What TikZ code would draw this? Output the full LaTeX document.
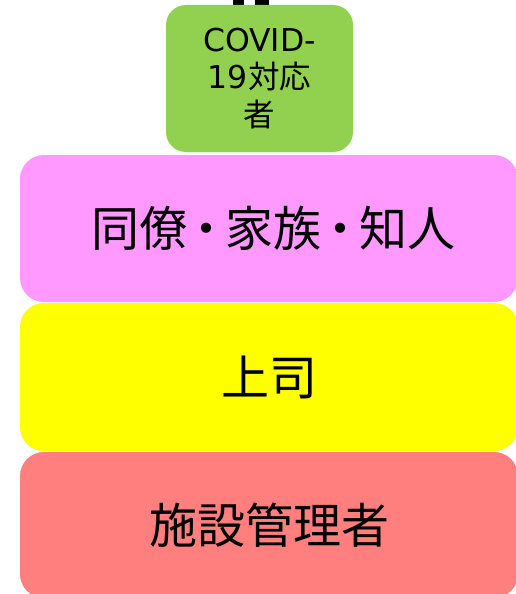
\documentclass[tikz,border=0pt]{standalone}
\usepackage{fontspec}
\setmainfont{Noto Sans CJK JP}
\newfontfamily\latinfont{DejaVu Sans}
\newcommand{\middot}{\kern-5pt・\kern-5pt}
\begin{document}
\begin{tikzpicture}[x=1pt,y=1pt,
  layer/.style={rounded corners=24pt, minimum width=498pt, inner sep=0pt, draw=none, font=\fontsize{48}{52}\selectfont, text=black},
  topbox/.style={rounded corners=20pt, minimum width=187pt, minimum height=147pt, inner sep=0pt, fill=topgreen, align=center, font=\fontsize{31.5}{37.5}\selectfont},
  blackbit/.style={fill=black, draw=none}]
\definecolor{topgreen}{HTML}{92D050}
\definecolor{pinkc}{HTML}{FF99FF}
\definecolor{yellowc}{HTML}{FFFF00}
\definecolor{redc}{HTML}{FF7F7F}
\useasboundingbox (0,0) rectangle (516,-594);
\clip (0,0) rectangle (516,-594);
\fill[white] (0,0) rectangle (516,-594);
\fill[blackbit] (233,0) rectangle (244,-6);
\fill[blackbit] (255,0) rectangle (269,-6);
\node[topbox] (covid) at (259.5,-78.5) {{\latinfont COVID-}\\{\latinfont 19}対応\\者};
\node[layer, fill=pinkc, minimum height=147pt] (peers) at (269,-228.5) {\hspace*{8pt}\raisebox{-1.5pt}{同僚\middot 家族\middot 知人}};
\node[layer, fill=yellowc, minimum height=148pt] (boss) at (269,-377) {\raisebox{-2pt}{上司}};
\node[layer, fill=redc, minimum height=146pt] (mgr) at (269,-525) {\raisebox{-1pt}{施設管理者}};
\end{tikzpicture}
\end{document}
